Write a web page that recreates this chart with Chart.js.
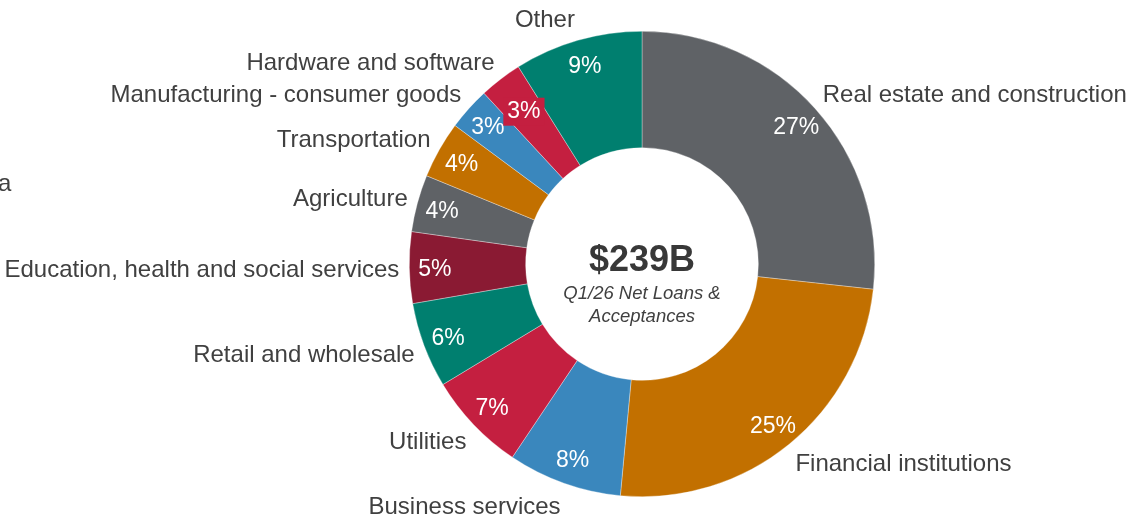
<!DOCTYPE html>
<html>
<head>
<meta charset="utf-8">
<script src="https://cdn.jsdelivr.net/npm/chart.js@4.4.1/dist/chart.umd.min.js"></script>
<style>
  html, body { margin: 0; padding: 0; background: #fff; }
  #wrap { position: relative; width: 1127px; height: 518px; }
</style>
</head>
<body>
<div id="wrap"><canvas id="loans"></canvas></div>
<script>
// Carteira por setor (% dos empréstimos líquidos)
const sectors = [
  'Real estate and construction',
  'Financial institutions',
  'Business services',
  'Utilities',
  'Retail and wholesale',
  'Education, health and social services',
  'Agriculture',
  'Transportation',
  'Manufacturing - consumer goods',
  'Hardware and software',
  'Other'
];
const shares = [27, 25, 8, 7, 6, 5, 4, 4, 3, 3, 9];
const totalLabel = '$239B';
const subtitleLines = ['Q1/26 Net Loans &', 'Acceptances'];

const palette = {
  gray: '#5f6266',
  orange: '#c27000',
  blue: '#3a87bd',
  red: '#c41f40',
  teal: '#007f6f',
  wine: '#8a1a33'
};
const sliceColors = [
  palette.gray, palette.orange, palette.blue, palette.red, palette.teal,
  palette.wine, palette.gray, palette.orange, palette.blue, palette.red, palette.teal
];

const FONT = "'Liberation Sans', Arial, sans-serif";

// Rótulos externos, percentuais e texto central
const sliceLabels = {
  id: 'sliceLabels',
  afterDatasetsDraw(chart, args, opts) {
    const ctx = chart.ctx;
    const arcs = chart.getDatasetMeta(0).data;
    ctx.save();
    arcs.forEach((arc, i) => {
      const { x, y, startAngle, endAngle, outerRadius, innerRadius } = arc.getProps(
        ['x', 'y', 'startAngle', 'endAngle', 'outerRadius', 'innerRadius'], true);
      const mid = (startAngle + endAngle) / 2;
      const cos = Math.cos(mid), sin = Math.sin(mid);

      // nome do setor, fora do anel (caixa de texto encostada no anel)
      ctx.font = '24px ' + FONT;
      ctx.fillStyle = '#404040';
      ctx.textBaseline = 'middle';
      ctx.textAlign = cos >= 0 ? 'left' : 'right';
      ctx.fillText(chart.data.labels[i],
        x + (outerRadius + 10) * cos,
        y + (outerRadius + 23) * sin + 2);

      // percentual dentro da fatia
      const boxed = opts.boxed.includes(i);
      const rp = innerRadius + (outerRadius - innerRadius) * (boxed ? 0.67 : 0.78);
      const px = x + rp * cos, py = y + rp * sin + 2;
      const txt = chart.data.datasets[0].data[i] + '%';
      ctx.font = '23px ' + FONT;
      ctx.textAlign = 'center';
      if (boxed) {
        const w = ctx.measureText(txt).width;
        ctx.fillStyle = sliceColors[i];
        ctx.fillRect(px - w / 2 - 4, py - 14, w + 8, 28);
      }
      ctx.fillStyle = '#ffffff';
      ctx.fillText(txt, px, py);
    });

    const c = arcs[0];
    ctx.textAlign = 'center';
    ctx.textBaseline = 'middle';
    ctx.fillStyle = '#383838';
    ctx.font = 'bold 36px ' + FONT;
    ctx.fillText(totalLabel, c.x, c.y - 3);
    ctx.fillStyle = '#404040';
    ctx.font = 'italic 18.5px ' + FONT;
    ctx.fillText(subtitleLines[0], c.x, c.y + 30);
    ctx.fillText(subtitleLines[1], c.x, c.y + 53);

    // resto de texto cortado na margem esquerda
    ctx.textAlign = 'left';
    ctx.font = '24px ' + FONT;
    ctx.fillText('a', -2, 184);
    ctx.restore();
  }
};

new Chart(document.getElementById('loans'), {
  type: 'doughnut',
  data: {
    labels: sectors,
    datasets: [{
      data: shares,
      backgroundColor: sliceColors,
      borderColor: 'rgba(255,255,255,0.55)',
      borderWidth: 0.6,
      hoverOffset: 0
    }]
  },
  options: {
    responsive: true,
    maintainAspectRatio: false,
    animation: false,
    cutout: '50%',
    layout: { padding: { left: 409, right: 252, top: 31, bottom: 21 } },
    plugins: {
      legend: { display: false },
      tooltip: { enabled: false },
      sliceLabels: { boxed: [9] }
    }
  },
  plugins: [sliceLabels]
});
</script>
</body>
</html>
